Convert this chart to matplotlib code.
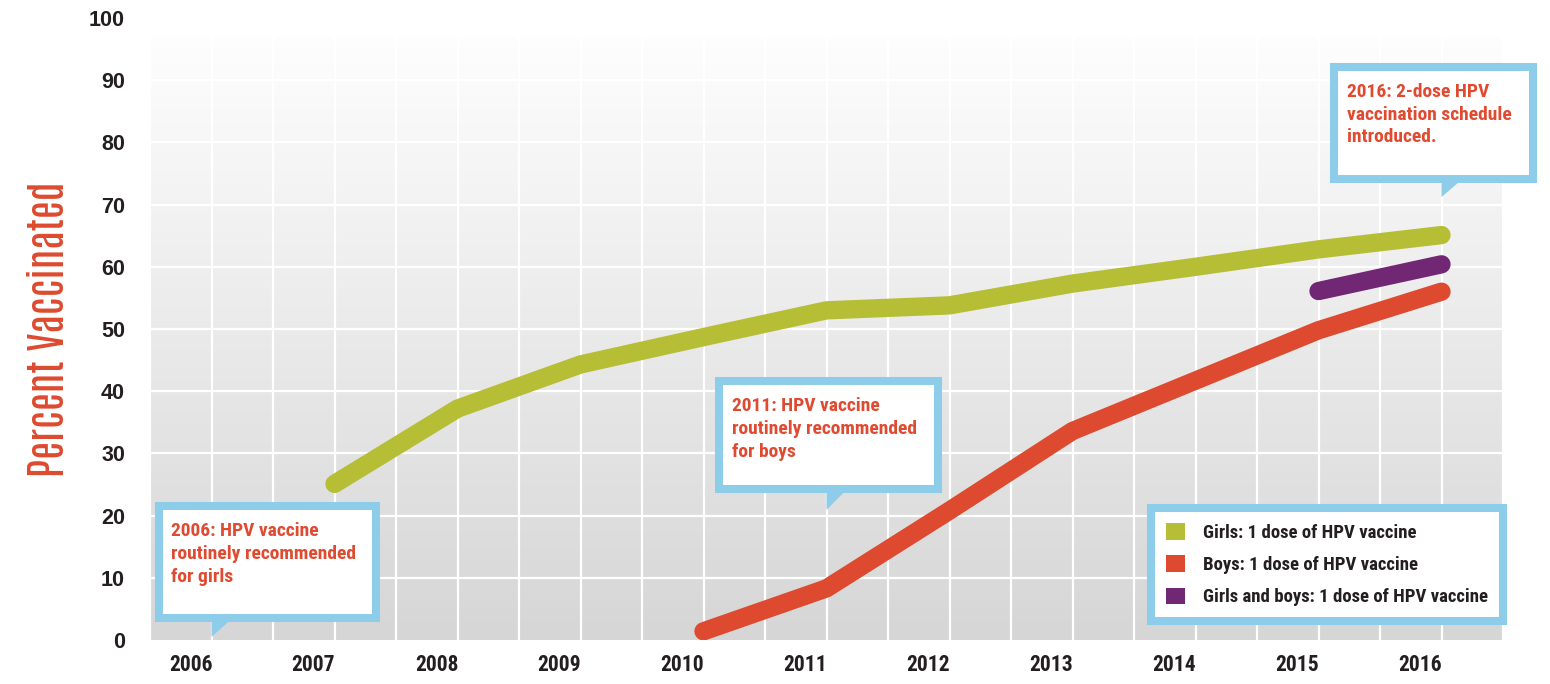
import numpy as np
import matplotlib
matplotlib.use("Agg")
import matplotlib.pyplot as plt
from matplotlib.patches import Rectangle, Polygon, Patch
from matplotlib.transforms import ScaledTranslation

# data
years = [2006, 2007, 2008, 2009, 2010, 2011, 2012, 2013, 2014, 2015, 2016]
girls_years = [2007, 2008, 2009, 2010, 2011, 2012, 2013, 2014, 2015, 2016]
girls = [25.1, 37.2, 44.3, 48.7, 53.0, 53.8, 57.3, 60.0, 62.8, 65.1]
boys_years = [2010, 2011, 2012, 2013, 2014, 2015, 2016]
boys = [1.4, 8.3, 20.8, 33.6, 41.7, 49.8, 56.0]
both_years = [2015, 2016]
both = [56.1, 60.4]
yticks = [0, 10, 20, 30, 40, 50, 60, 70, 80, 90, 100]

labels = ["Girls: 1 dose of HPV vaccine",
          "Boys: 1 dose of HPV vaccine",
          "Girls and boys: 1 dose of HPV vaccine"]
notes = ["2006: HPV vaccine\nroutinely recommended\nfor girls",
         "2011: HPV vaccine\nroutinely recommended\nfor boys",
         "2016: 2-dose HPV\nvaccination schedule\nintroduced."]

GREEN = "#b5be35"
RED = "#dd4a2f"
PURPLE = "#722775"
BLUE = "#8ecdea"
TXT_RED = "#e04a30"
DARK = "#231f20"
NARROW = ["Roboto Condensed", "Archivo Narrow", "Saira Condensed", "DejaVu Sans"]
TALL = ["Antonio", "Oswald", "Saira ExtraCondensed", "DejaVu Sans"]

fig = plt.figure(figsize=(15.5, 6.84), dpi=100)
ax = fig.add_axes([150 / 1550, 44 / 684, 1353 / 1550, 622 / 684])
ax.set_xlim(2005.5, 2016.5)
ax.set_ylim(0, 100)

# grey background gradient, white at top
grad = np.linspace(214, 255, 256)
grad[248:] = 255
img = np.stack([grad] * 3, axis=-1).astype(np.uint8)[:, None, :].repeat(2, axis=1)
ax.imshow(img, extent=[0, 1, 0, 1], transform=ax.transAxes, aspect="auto",
          origin="lower", zorder=0)

for gx in np.arange(2005.5, 2016.6, 0.5):
    ax.axvline(gx, color="white", lw=1.6, zorder=1)
for gy in yticks[1:]:
    ax.axhline(gy, color="white", lw=1.6, zorder=1)

lw = 13.2
ax.plot(girls_years, girls, color=GREEN, lw=lw, solid_capstyle="round",
        solid_joinstyle="round", zorder=3)
ax.plot(boys_years, boys, color=RED, lw=lw, solid_capstyle="round",
        solid_joinstyle="round", zorder=3)
ax.plot(both_years, both, color=PURPLE, lw=lw, solid_capstyle="round",
        solid_joinstyle="round", zorder=4)

for s in ax.spines.values():
    s.set_visible(False)
ax.tick_params(length=0)
ax.set_yticks(yticks)
ax.set_yticklabels([str(v) for v in yticks], fontsize=15.5, fontweight="bold",
                   family="Liberation Sans", color=DARK)
ax.tick_params(axis="y", pad=18)
ax.set_xticks(years)
ax.set_xticklabels([str(y) for y in years], fontsize=15.5, fontweight="bold",
                   family=NARROW, color=DARK)
ax.tick_params(axis="x", pad=10)
for lab in ax.get_xticklabels():
    lab.set_transform(lab.get_transform() + ScaledTranslation(-21 / 100, 0, fig.dpi_scale_trans))

ax.set_ylabel("Percent Vaccinated", fontsize=30, fontweight="bold",
              family=TALL, color=RED)
ax.yaxis.set_label_coords(-0.06, 0.5)

# callout boxes: (x0, x1, y0, y1, tip x, tip y)
boxes = [(2005.57, 2007.34, 3.5, 21.5, 2006, 0.5),
         (2010.13, 2011.91, 24.3, 41.6, 2011, 20.9),
         (2015.13, 2016.74, 74.1, 92.1, 2016, 71.2)]
for (x0, x1, y0, y1, tx, ty), note in zip(boxes, notes):
    ax.add_patch(Rectangle((x0, y0), x1 - x0, y1 - y0, facecolor="white",
                           edgecolor=BLUE, lw=5.8, joinstyle="miter", zorder=6,
                           clip_on=False))
    ax.add_patch(Polygon([(tx, y0), (tx + 0.17, y0), (tx, ty)], closed=True,
                         facecolor=BLUE, edgecolor="none", zorder=6, clip_on=False))
    ax.text(x0 + 0.1, y1 - 2.5, note, ha="left", va="top", fontsize=14,
            fontweight="bold", family=NARROW, color=TXT_RED, linespacing=1.35,
            zorder=7, clip_on=False)

handles = [Patch(facecolor=c, edgecolor="none") for c in (GREEN, RED, PURPLE)]
leg = ax.legend(handles, labels, loc="lower right", bbox_to_anchor=(1.0, 0.03),
                frameon=True, fancybox=False, framealpha=1,
                prop={"family": NARROW, "weight": "bold", "size": 13.5},
                handlelength=1.0, handleheight=1.0, handletextpad=0.95,
                labelspacing=0.72, borderpad=0.8, borderaxespad=0)
leg.get_frame().set_edgecolor(BLUE)
leg.get_frame().set_linewidth(5.8)
leg.set_zorder(8)
for t in leg.get_texts():
    t.set_color(DARK)

fig.savefig("out.png", dpi=100, facecolor="white")
